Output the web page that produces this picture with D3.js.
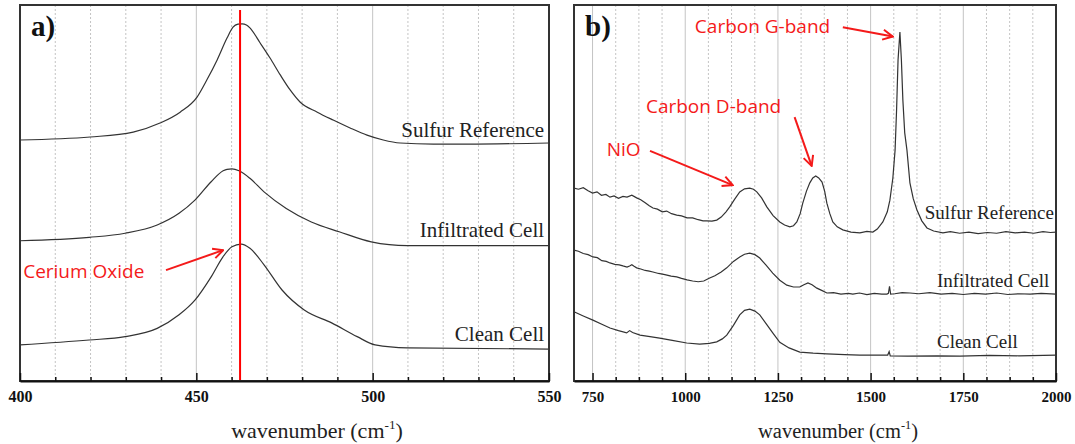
<!DOCTYPE html>
<html>
<head>
<meta charset="utf-8">
<script src="https://d3js.org/d3.v7.min.js"></script>
<style>
  body { margin: 0; background: #fff; }
  svg { display: block; }
</style>
</head>
<body>
<svg id="chart" width="1075" height="444"></svg>
<script>
// ---- panel a data : wavenumber, intensity (a.u.) ----
var aSulfurRef = [[400,64.1],[419.9,64.9],[432.1,66.2],[439.7,68.6],[445.4,71.5],[450.2,75.5],[453.0,80.1],
  [455.9,85.4],[458.7,91.2],[460.4,94.1],[461.8,94.9],[463.0,95.0],[464.2,94.7],[465.2,93.9],[468.1,89.9],
  [470.9,85.9],[473.8,81.4],[476.6,77.4],[479.4,74.2],[484.3,71.5],[488.8,69.4],[493.6,67.3],[498.4,65.4],
  [503.0,64.1],[507.8,63.3],[517.2,63.0],[526.8,63.0],[550,63.3]];
var aInfiltrated = [[400,37.3],[419.6,38.2],[429.8,39.3],[438.9,41.5],[445.1,44.6],[449.6,48.1],[454.2,53.0],
  [457.6,55.9],[458.7,56.3],[460.1,56.4],[462.1,55.9],[465.2,53.9],[469.2,50.3],[475.5,45.9],[482.6,42.3],
  [490.5,39.7],[499.6,37.0],[509.8,36.0],[550,36.0]];
var aClean = [[400,9.6],[419.6,10.9],[429.8,11.8],[438.9,14.0],[445.1,17.6],[449.6,21.5],[454.2,27.7],
  [457.6,33.1],[460.1,35.7],[462.7,36.4],[465.2,35.3],[469.2,30.9],[474.3,24.2],[480.6,18.9],[488.5,15.4],
  [495.6,11.8],[500.7,9.6],[509.8,8.8],[550,8.5]];
var aCeriaPeak = 462.4;
var aMajorTicks = [400, 450, 500, 550];

// ---- panel b data ----
var bSulfurRef = [[700,51.3],[712,51.0],[725,51.4],[738,50.6],[750,50.0],[762,50.3],[774,49.4],[786,49.6],
  [797,48.9],[808,49.2],[820,48.6],[832,49.1],[843,48.9],[856,49.4],[869,48.7],[880,48.2],[892,47.4],[903,46.6],
  [913,46.0],[925,45.7],[938,45.0],[950,45.2],[963,44.5],[977,44.1],[990,43.9],[1005,43.4],[1020,43.4],
  [1035,42.9],[1048,42.6],[1058,42.6],[1072,42.5],[1085,42.8],[1097,43.6],[1110,45.0],[1120,46.3],[1133,48.3],
  [1147,50.3],[1160,51.1],[1174,51.3],[1184,51.0],[1193,50.3],[1206,48.7],[1220,46.3],[1237,44.0],[1255,42.3],
  [1268,41.5],[1282,41.0],[1292,41.3],[1301,42.3],[1310,44.5],[1317,47.3],[1327,50.5],[1336,52.7],[1344,54.0],
  [1352,54.5],[1360,54.0],[1369,52.9],[1376,50.5],[1382,47.3],[1390,44.5],[1398,42.3],[1410,41.0],[1425,40.2],
  [1447,39.6],[1471,39.4],[1490,39.8],[1506,39.6],[1518,40.4],[1533,42.3],[1545,45.0],[1552,48.1],[1560,54.0],
  [1566,61.4],[1570,72.0],[1574,85.4],[1579,92.8],[1583,85.4],[1587,74.7],[1592,66.0],[1598,61.4],[1606,52.7],
  [1615,48.5],[1625,45.5],[1638,42.6],[1652,40.7],[1670,39.9],[1695,39.4],[1715,39.7],[1740,39.3],[1765,39.6],
  [1790,39.2],[1815,39.5],[1840,39.3],[1865,39.7],[1890,39.4],[1915,39.6],[1940,39.3],[1965,39.7],[1985,39.5],
  [2000,39.6]];
var bInfiltrated = [[700,34.8],[712,34.5],[725,33.9],[738,33.6],[751,33.0],[763,32.8],[775,32.0],[787,31.8],
  [797,31.4],[810,31.0],[822,30.9],[832,30.6],[843,30.3],[850,30.6],[856,30.9],[862,30.5],[869,30.1],[880,29.8],
  [892,29.4],[903,29.2],[913,29.0],[928,28.6],[945,28.3],[962,27.9],[977,27.7],[990,27.3],[1005,26.9],[1020,26.6],
  [1035,26.4],[1050,26.6],[1066,27.4],[1080,28.0],[1097,29.0],[1112,30.1],[1130,31.8],[1147,33.0],[1160,33.7],
  [1174,34.0],[1188,33.6],[1201,32.7],[1218,30.8],[1236,28.7],[1255,26.8],[1274,25.5],[1292,25.0],[1309,25.0],
  [1320,25.6],[1331,26.1],[1342,25.6],[1355,24.7],[1368,24.1],[1382,23.4],[1400,23.5],[1420,23.1],[1440,23.3],
  [1452,23.1],[1470,23.4],[1490,23.0],[1510,23.3],[1530,23.1],[1544,23.1],[1548,23.3],[1551,25.2],[1554,23.1],
  [1565,23.2],[1585,23.5],[1606,23.4],[1630,23.2],[1660,23.5],[1690,23.1],[1720,23.3],[1750,23.0],[1780,23.3],
  [1810,23.1],[1840,23.4],[1870,23.0],[1900,23.2],[1930,23.1],[1960,23.3],[2000,23.1]];
var bClean = [[700,18.4],[725,17.3],[751,16.2],[775,15.1],[797,14.1],[820,13.4],[842,12.8],[850,13.4],
  [858,12.9],[878,12.2],[905,11.8],[931,11.4],[965,10.8],[1004,10.1],[1039,9.8],[1065,10.0],[1085,10.4],
  [1100,11.2],[1112,12.2],[1130,14.8],[1147,17.6],[1160,18.8],[1174,19.1],[1188,18.6],[1201,17.6],[1220,15.0],
  [1236,12.8],[1255,10.3],[1280,8.8],[1309,7.7],[1345,7.4],[1382,7.2],[1430,7.0],[1471,6.9],[1520,6.9],
  [1546,6.9],[1550,7.8],[1553,6.7],[1600,6.6],[1680,6.7],[1741,6.6],[1820,6.8],[1900,6.7],[2000,6.9]];
var bMajorTicks = [750, 1000, 1250, 1500, 1750, 2000];

var seriesNames = ["Sulfur Reference", "Infiltrated Cell", "Clean Cell"];

var svg = d3.select("#chart");
var serif = "'Liberation Serif', 'Times New Roman', serif";
var sans = "'Open Sans', 'Liberation Sans', sans-serif";
var red = "#f41a1a";

// open arrow head
svg.append("defs").append("marker")
    .attr("id", "arrow")
    .attr("viewBox", "0 0 12 12")
    .attr("refX", 11).attr("refY", 6)
    .attr("markerWidth", 12).attr("markerHeight", 12)
    .attr("markerUnits", "userSpaceOnUse")
    .attr("orient", "auto")
  .append("path")
    .attr("d", "M1,1 L11,6 L1,11")
    .attr("fill", "none")
    .attr("stroke", red)
    .attr("stroke-width", 2);

function drawPanel(p) {
    var x = d3.scaleLinear().domain(p.domain).range([p.left, p.right]);
    var y = d3.scaleLinear().domain([0, 100]).range([381, 5]);
    var g = svg.append("g");

    // grid
    g.selectAll(".minor").data(p.minor).enter().append("line")
        .attr("x1", function (d) { return x(d); }).attr("x2", function (d) { return x(d); })
        .attr("y1", 5).attr("y2", 381)
        .attr("stroke", "#c4c4c4").attr("stroke-width", 1)
        .attr("stroke-dasharray", "2,2");
    g.selectAll(".major").data(p.major.filter(function (d) { return d > p.domain[0] && d < p.domain[1]; }))
        .enter().append("line")
        .attr("x1", function (d) { return x(d); }).attr("x2", function (d) { return x(d); })
        .attr("y1", 5).attr("y2", 381)
        .attr("stroke", "#c4c4c4").attr("stroke-width", 1);

    // spectra
    var line = d3.line()
        .x(function (d) { return x(d[0]); })
        .y(function (d) { return y(d[1]); })
        .curve(p.curve);
    p.series.forEach(function (s, i) {
        g.append("path").datum(s)
            .attr("d", line)
            .attr("fill", "none")
            .attr("stroke", "#333")
            .attr("stroke-width", 1.2);
        var lab = p.labels[i];
        g.append("text")
            .attr("x", x(lab[0])).attr("y", y(lab[1]))
            .attr("text-anchor", lab[2])
            .attr("font-family", serif)
            .attr("font-size", p.labelSize)
            .attr("fill", "#222")
            .text(seriesNames[i]);
    });

    if (p.marker) {
        g.append("line")
            .attr("x1", x(p.marker)).attr("x2", x(p.marker))
            .attr("y1", 10).attr("y2", 381)
            .attr("stroke", "#f00").attr("stroke-width", 2);
    }

    // frame
    g.append("rect")
        .attr("x", p.left).attr("y", 5)
        .attr("width", p.right - p.left).attr("height", 376)
        .attr("fill", "none").attr("stroke", "#333").attr("stroke-width", 2);

    // axes, ticks point inward
    g.append("g")
        .attr("transform", "translate(0,381)")
        .call(d3.axisBottom(x).tickValues(p.minor).tickSize(-4).tickFormat(""))
        .call(function (a) { a.select(".domain").remove(); a.selectAll("line").attr("stroke", "#111").attr("stroke-width", 1.5); });
    var ax = g.append("g")
        .attr("transform", "translate(0,381)")
        .call(d3.axisBottom(x).tickValues(p.major).tickFormat(d3.format("d"))
            .tickSizeInner(-8).tickSizeOuter(0).tickPadding(10));
    ax.select(".domain").attr("stroke", "#111").attr("stroke-width", 2);
    ax.selectAll("line").attr("stroke", "#111").attr("stroke-width", 1.5);
    ax.selectAll("text")
        .attr("font-family", serif).attr("font-weight", "bold")
        .attr("font-size", p.tickSize).attr("fill", "#111");

    // axis title
    var t = g.append("text")
        .attr("x", p.titleX).attr("y", 438)
        .attr("text-anchor", "middle")
        .attr("font-family", serif).attr("font-size", p.titleSize).attr("fill", "#222");
    t.append("tspan").text("wavenumber (cm");
    t.append("tspan").attr("dy", -9).attr("font-size", p.titleSize * 0.6).text("-1");
    t.append("tspan").attr("dy", 9).text(")");

    // panel letter
    g.append("text")
        .attr("x", p.left + 11).attr("y", 36)
        .attr("font-family", serif).attr("font-weight", "bold")
        .attr("font-size", 29).attr("fill", "#111")
        .text(p.letter);

    // red annotations
    p.notes.forEach(function (n) {
        g.append("text")
            .attr("x", x(n.at[0])).attr("y", y(n.at[1]))
            .attr("font-family", sans).attr("font-size", 19)
            .attr("fill", red)
            .text(n.text);
        g.append("line")
            .attr("x1", x(n.from[0])).attr("y1", y(n.from[1]))
            .attr("x2", x(n.to[0])).attr("y2", y(n.to[1]))
            .attr("stroke", red).attr("stroke-width", 2)
            .attr("marker-end", "url(#arrow)");
    });
}

drawPanel({
    letter: "a)",
    left: 20, right: 549,
    domain: [400, 550],
    major: aMajorTicks,
    minor: d3.range(410, 550, 10).filter(function (d) { return d % 50 !== 0; }),
    series: [aSulfurRef, aInfiltrated, aClean],
    curve: d3.curveMonotoneX,
    labels: [[548.6, 64.9, "end"], [548.6, 38.3, "end"], [548.6, 10.6, "end"]],
    labelSize: 21,
    tickSize: 16,
    marker: aCeriaPeak,
    titleX: 317, titleSize: 22,
    notes: [{ text: "Cerium Oxide", at: [400.9, 27.4], from: [441.4, 29.5], to: [457.6, 34.8] }]
});

drawPanel({
    letter: "b)",
    left: 574, right: 1056,
    domain: [700, 2000],
    major: bMajorTicks,
    minor: d3.range(812.5, 2000, 62.5).filter(function (d) { return d % 250 !== 0; }),
    series: [bSulfurRef, bInfiltrated, bClean],
    curve: d3.curveLinear,
    labels: [[1646, 43.1, "start"], [1679, 25.0, "start"], [1679, 8.8, "start"]],
    labelSize: 19,
    tickSize: 15,
    marker: null,
    titleX: 838, titleSize: 20.5,
    notes: [
        { text: "Carbon G-band", at: [1026, 92.6], from: [1425, 94.1], to: [1560, 91.6] },
        { text: "Carbon D-band", at: [894, 71.3], from: [1295, 70.2], to: [1341, 57.2] },
        { text: "NiO", at: [788, 59.8], from: [905, 61.2], to: [1128, 52.1] }
    ]
});
</script>
</body>
</html>
